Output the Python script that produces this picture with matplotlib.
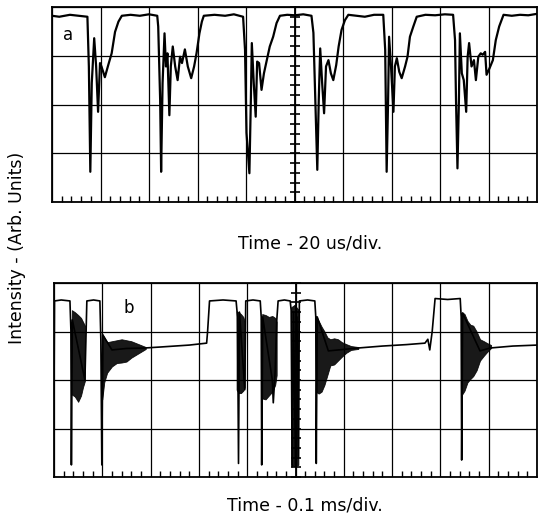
import matplotlib
matplotlib.use("Agg")
import matplotlib.pyplot as plt
import numpy as np
from matplotlib.ticker import MultipleLocator

# Oscilloscope traces, x and y in screen divisions
# (10 horizontal x 4 vertical divisions per panel)

# --- panel a : 20 us/div ---
trace_a_x = [0.00, 0.15, 0.37, 0.55, 0.73, 0.76, 0.79, 0.82, 0.87, 0.91, 0.95, 0.99, 1.02,
             1.09, 1.16, 1.23, 1.30, 1.37, 1.44, 1.62, 1.81, 2.00, 2.17, 2.19, 2.23, 2.25,
             2.28, 2.32, 2.35, 2.38, 2.42, 2.45, 2.49, 2.54, 2.59, 2.64, 2.68, 2.74, 2.80,
             2.87, 2.93, 2.98, 3.04, 3.09, 3.13, 3.35, 3.57, 3.75, 3.94, 3.98, 4.01, 4.07,
             4.10, 4.12, 4.16, 4.20, 4.23, 4.27, 4.32, 4.37, 4.43, 4.49, 4.56, 4.63, 4.70,
             4.85, 5.01, 5.18, 5.35, 5.39, 5.43, 5.47, 5.50, 5.53, 5.57, 5.61, 5.65, 5.70,
             5.75, 5.80, 5.86, 5.91, 5.97, 6.04, 6.11, 6.28, 6.45, 6.64, 6.83, 6.87, 6.89,
             6.90, 6.93, 6.95, 6.99, 7.04, 7.07, 7.11, 7.16, 7.21, 7.28, 7.33, 7.38, 7.45,
             7.52, 7.70, 7.90, 8.10, 8.27, 8.31, 8.33, 8.36, 8.39, 8.41, 8.45, 8.49, 8.54,
             8.57, 8.60, 8.65, 8.70, 8.74, 8.79, 8.84, 8.88, 8.93, 8.96, 9.02, 9.09, 9.15,
             9.22, 9.31, 9.48, 9.65, 9.82, 10.0]
trace_a_y = [3.82, 3.80, 3.84, 3.82, 3.80, 2.78, 0.62, 2.44, 3.36, 2.78, 1.85, 2.85, 2.78,
             2.56, 2.81, 3.05, 3.49, 3.70, 3.82, 3.84, 3.82, 3.85, 3.82, 3.60, 2.09, 0.62,
             2.44, 3.46, 2.78, 3.05, 1.78, 2.78, 3.19, 2.78, 2.50, 2.98, 2.85, 3.13, 2.78,
             2.54, 2.78, 3.05, 3.46, 3.70, 3.82, 3.84, 3.82, 3.85, 3.80, 3.12, 1.42, 0.59,
             2.09, 3.26, 2.44, 1.75, 2.88, 2.85, 2.30, 2.64, 2.91, 3.19, 3.39, 3.67, 3.82,
             3.84, 3.83, 3.85, 3.82, 3.47, 2.09, 0.66, 2.09, 3.15, 2.44, 1.82, 2.78, 2.91,
             2.64, 2.50, 2.81, 3.19, 3.53, 3.73, 3.84, 3.82, 3.80, 3.84, 3.84, 3.12, 1.42,
             0.62, 2.09, 3.39, 2.78, 1.85, 2.78, 2.95, 2.67, 2.54, 2.78, 2.98, 3.39, 3.60,
             3.80, 3.84, 3.83, 3.85, 3.84, 3.32, 2.09, 0.69, 2.09, 3.46, 2.64, 2.50, 1.85,
             2.98, 3.26, 2.78, 2.91, 2.50, 2.98, 3.05, 3.02, 3.08, 2.61, 2.74, 2.91, 3.32,
             3.60, 3.84, 3.82, 3.84, 3.83, 3.86]

# --- panel b : 0.1 ms/div ---
trace_b_x = [0.00, 0.01, 0.15, 0.33, 0.35, 0.36, 0.38, 0.64, 0.66, 0.68, 0.82, 0.95, 0.97,
             0.99, 1.01, 1.20, 1.50, 1.88, 2.20, 2.50, 2.80, 3.16, 3.18, 3.22, 3.50, 3.77,
             3.80, 3.82, 3.84, 3.95, 3.97, 4.12, 4.27, 4.29, 4.30, 4.32, 4.52, 4.54, 4.58,
             4.61, 4.64, 4.77, 4.89, 4.91, 4.93, 4.96, 5.00, 5.03, 5.06, 5.08, 5.25, 5.40,
             5.42, 5.43, 5.45, 5.68, 6.30, 6.80, 7.30, 7.68, 7.74, 7.78, 7.83, 7.89, 8.15,
             8.41, 8.43, 8.44, 8.46, 8.82, 9.03, 9.50, 10.0]
trace_b_y = [1.53, 3.63, 3.65, 3.63, 3.03, 0.25, 3.24, 2.00, 2.80, 3.63, 3.65, 3.63, 2.82,
             0.25, 2.93, 2.62, 2.65, 2.66, 2.68, 2.70, 2.72, 2.76, 3.00, 3.63, 3.65, 3.63,
             3.30, 0.28, 3.40, 1.80, 3.63, 3.65, 3.63, 3.30, 0.25, 3.30, 2.00, 1.53, 2.20,
             3.20, 3.63, 3.65, 3.63, 3.44, 0.21, 3.40, 0.25, 3.30, 0.40, 3.63, 3.65, 3.63,
             3.30, 0.28, 3.30, 2.60, 2.66, 2.70, 2.73, 2.76, 2.84, 2.62, 3.00, 3.68, 3.66,
             3.68, 3.30, 0.35, 3.38, 2.60, 2.66, 2.70, 2.72]

# envelopes of the dense oscillation bursts in panel b
burst1_x = [0.37, 0.43, 0.50, 0.56, 0.60, 0.64]
burst1_hi = [3.44, 3.40, 3.34, 3.28, 3.20, 3.12]
burst1_lo = [1.70, 1.66, 1.55, 1.68, 1.85, 1.98]

burst2_x = [1.00, 1.04, 1.10, 1.20, 1.30, 1.40, 1.50, 1.60, 1.70, 1.80, 1.90]
burst2_hi = [2.95, 2.88, 2.78, 2.80, 2.82, 2.84, 2.82, 2.80, 2.76, 2.72, 2.68]
burst2_lo = [1.60, 1.95, 2.15, 2.28, 2.35, 2.36, 2.38, 2.46, 2.52, 2.58, 2.64]

burst3_x = [3.78, 3.82, 3.87, 3.92, 3.95]
burst3_hi = [3.42, 3.40, 3.36, 3.30, 3.20]
burst3_lo = [1.80, 1.73, 1.73, 1.78, 1.85]

burst4_x = [4.31, 4.38, 4.45, 4.52, 4.58, 4.61]
burst4_hi = [3.36, 3.34, 3.30, 3.32, 3.28, 3.20]
burst4_lo = [1.62, 1.60, 1.68, 1.76, 1.90, 2.10]

burst5_x = [4.91, 4.98, 5.06]
burst5_hi = [3.50, 3.55, 3.45]
burst5_lo = [0.25, 0.22, 0.25]

burst6_x = [5.43, 5.48, 5.54, 5.60, 5.66, 5.72, 5.80, 5.88, 5.96, 6.05, 6.15, 6.30]
burst6_hi = [3.32, 3.22, 3.10, 3.00, 2.88, 2.84, 2.86, 2.84, 2.78, 2.74, 2.70, 2.68]
burst6_lo = [1.75, 1.72, 1.76, 1.90, 2.10, 2.30, 2.32, 2.40, 2.48, 2.56, 2.62, 2.64]

burst7_x = [8.45, 8.50, 8.56, 8.62, 8.68, 8.75, 8.82, 8.90, 8.97, 9.05]
burst7_hi = [3.40, 3.36, 3.22, 3.14, 3.12, 3.00, 2.84, 2.80, 2.76, 2.72]
burst7_lo = [1.70, 1.78, 1.95, 2.02, 2.08, 2.20, 2.40, 2.50, 2.58, 2.66]

bursts_b = [(burst1_x, burst1_hi, burst1_lo), (burst2_x, burst2_hi, burst2_lo),
            (burst3_x, burst3_hi, burst3_lo), (burst4_x, burst4_hi, burst4_lo),
            (burst5_x, burst5_hi, burst5_lo), (burst6_x, burst6_hi, burst6_lo),
            (burst7_x, burst7_hi, burst7_lo)]

FONT = ['DejaVu Sans']


def scope_grid(ax):
    """Graticule: 10x4 divisions, minor marks on the bottom and the centre line."""
    ax.set_xlim(0, 10)
    ax.set_ylim(0, 4)
    ax.set_xticks(range(11))
    ax.set_yticks(range(5))
    ax.grid(True, color='black', lw=0.9, zorder=0)
    ax.set_axisbelow(True)
    ax.tick_params(which='major', length=0, labelbottom=False, labelleft=False)
    ax.xaxis.set_minor_locator(MultipleLocator(0.2))
    ax.tick_params(axis='x', which='minor', direction='in', length=4, width=1.0,
                   bottom=True, top=False)
    for sp in ax.spines.values():
        sp.set_linewidth(1.3)
    centre = ax.secondary_yaxis(0.5)
    centre.yaxis.set_major_locator(MultipleLocator(1))
    centre.yaxis.set_minor_locator(MultipleLocator(0.2))
    centre.tick_params(axis='y', which='both', direction='inout', length=7, width=1.2,
                       labelleft=False, labelright=False)
    for sp in centre.spines.values():
        sp.set_linewidth(1.3)


fig = plt.figure(figsize=(5.38, 5.2), dpi=100)
ax_a = fig.add_axes([52 / 538, 1 - 202 / 520, 485 / 538, 195 / 520])
ax_b = fig.add_axes([54 / 538, 1 - 477 / 520, 483 / 538, 194 / 520])

scope_grid(ax_a)
ax_a.plot(trace_a_x, trace_a_y, color='black', lw=1.6, zorder=3)
ax_a.text(0.33, 3.43, 'a', fontsize=12, family=FONT, ha='center', va='center')

scope_grid(ax_b)
ax_b.plot(trace_b_x, trace_b_y, color='black', lw=1.2, zorder=3)
for bx, bhi, blo in bursts_b:
    ax_b.fill_between(bx, blo, bhi, color='black', lw=0.6, alpha=0.9, zorder=3)
ax_b.text(1.54, 3.48, 'b', fontsize=12, family=FONT, ha='center', va='center')

fig.text(310 / 538, 1 - 243 / 520, 'Time - 20 us/div.', fontsize=12.5, family=FONT,
         ha='center', va='center')
fig.text(305 / 538, 1 - 505 / 520, 'Time - 0.1 ms/div.', fontsize=12.5, family=FONT,
         ha='center', va='center')
fig.text(17 / 538, 1 - 248 / 520, 'Intensity - (Arb. Units)', fontsize=12.5, family=FONT,
         rotation=90, ha='center', va='center')

fig.savefig('out.png', dpi=100)
